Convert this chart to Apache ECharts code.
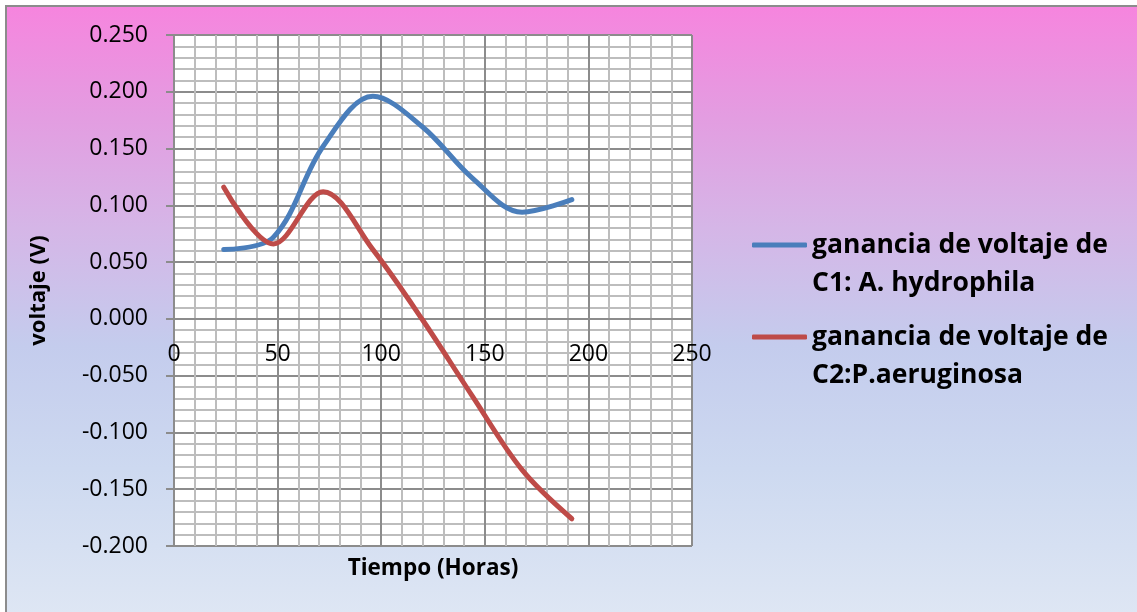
<!DOCTYPE html>
<html>
<head>
<meta charset="utf-8">
<script src="https://cdn.jsdelivr.net/npm/echarts@6/dist/echarts.min.js"></script>
<style>
  html, body { margin: 0; padding: 0; background: #ffffff; }
  #frame {
    position: absolute; left: 5px; top: 5px; width: 1140px; height: 620px;
    border: 2px solid #8c8c8c; box-sizing: border-box;
    background: linear-gradient(to bottom, #f685de 0%, #e39de1 18%, #d5b6e7 36%, #c4cced 55%, #cdd9f0 75%, #dfe7f4 100%);
  }
  #chart { position: absolute; left: 0; top: 0; width: 1137px; height: 612px; }
</style>
</head>
<body>
<div id="frame"></div>
<div id="chart"></div>
<script>
// Tiempo (horas) de cada medición
const hours = [24, 48, 72, 96, 120, 144, 168, 192];
// Ganancia de voltaje (V) por celda
const voltC1 = [0.061, 0.072, 0.152, 0.196, 0.169, 0.124, 0.094, 0.105];
const voltC2 = [0.116, 0.066, 0.112, 0.061, -0.001, -0.068, -0.133, -0.176];
const seriesNames = [
  'ganancia de voltaje de\nC1: A. hydrophila',
  'ganancia de voltaje de\nC2:P.aeruginosa'
];
const seriesColors = ['#4a7ebb', '#be4b48'];

const Y_MIN = -0.2, Y_MAX = 0.25;

const pairs = (xs, ys) => xs.map((x, i) => [x, ys[i]]);

const chart = echarts.init(document.getElementById('chart'), null, { renderer: 'canvas' });

const legendBase = {
  orient: 'vertical',
  left: 752,
  padding: 0,
  icon: 'roundRect',
  itemWidth: 55,
  itemHeight: 5,
  // blank first line keeps the swatch level with the first line of text
  formatter: name => '\u00a0\n' + name,
  textStyle: {
    fontFamily: 'Open Sans',
    fontWeight: 'bold',
    fontSize: 26.5,
    lineHeight: 38,
    color: '#000'
  }
};

chart.setOption({
  animation: false,
  grid: {
    left: 174, right: 445, top: 35, bottom: 66,
    outerBoundsMode: 'none',
    containLabel: false,
    show: true, backgroundColor: '#ffffff', borderWidth: 0
  },
  legend: [
    Object.assign({}, legendBase, { data: [seriesNames[0]], top: 188 }),
    Object.assign({}, legendBase, { data: [seriesNames[1]], top: 280 })
  ],
  xAxis: {
    type: 'value',
    min: 0, max: 250, interval: 50,
    position: 'bottom',
    offset: 0,
    name: 'Tiempo (Horas)',
    nameLocation: 'middle',
    nameGap: 238,
    nameTextStyle: { fontFamily: 'Open Sans', fontWeight: 'bold', fontSize: 22.5, color: '#000' },
    axisLine: { show: true, onZero: false, lineStyle: { color: '#8c8c8c', width: 2 } },
    axisTick: { show: false },
    minorTick: { show: false, splitNumber: 5 },
    axisLabel: { fontFamily: 'Open Sans', fontSize: 23, color: '#000', margin: 24 },
    splitLine: { show: true, lineStyle: { color: '#8c8c8c', width: 2 } },
    minorSplitLine: { show: true, lineStyle: { color: '#bdbdbd', width: 2 } }
  },
  yAxis: {
    type: 'value',
    min: Y_MIN, max: Y_MAX, interval: 0.05,
    name: 'voltaje (V)',
    nameLocation: 'middle',
    nameGap: 124,
    nameTextStyle: { fontFamily: 'Open Sans', fontWeight: 'bold', fontSize: 22, color: '#000' },
    axisLine: { show: true, onZero: false, lineStyle: { color: '#8c8c8c', width: 2 } },
    axisTick: { show: true, length: 8, inside: false, lineStyle: { color: '#8c8c8c', width: 2 } },
    minorTick: { show: false, splitNumber: 5 },
    axisLabel: {
      fontFamily: 'Open Sans', fontSize: 23, color: '#000', margin: 26,
      formatter: v => v.toFixed(3)
    },
    splitLine: { show: true, lineStyle: { color: '#8c8c8c', width: 2 } },
    minorSplitLine: { show: true, lineStyle: { color: '#bdbdbd', width: 2 } }
  },
  series: [
    {
      name: seriesNames[0], type: 'line', smooth: 0.35, showSymbol: false,
      data: pairs(hours, voltC1), color: seriesColors[0],
      lineStyle: { width: 5, color: seriesColors[0], cap: 'round' }
    },
    {
      name: seriesNames[1], type: 'line', smooth: 0.35, showSymbol: false,
      data: pairs(hours, voltC2), color: seriesColors[1],
      lineStyle: { width: 5, color: seriesColors[1], cap: 'round' }
    }
  ]
});

// move the horizontal axis up so it crosses the vertical axis at 0 V
const zeroY = chart.convertToPixel({ yAxisIndex: 0 }, 0);
const bottomY = chart.convertToPixel({ yAxisIndex: 0 }, Y_MIN);
chart.setOption({ xAxis: { offset: zeroY - bottomY } });
</script>
</body>
</html>
